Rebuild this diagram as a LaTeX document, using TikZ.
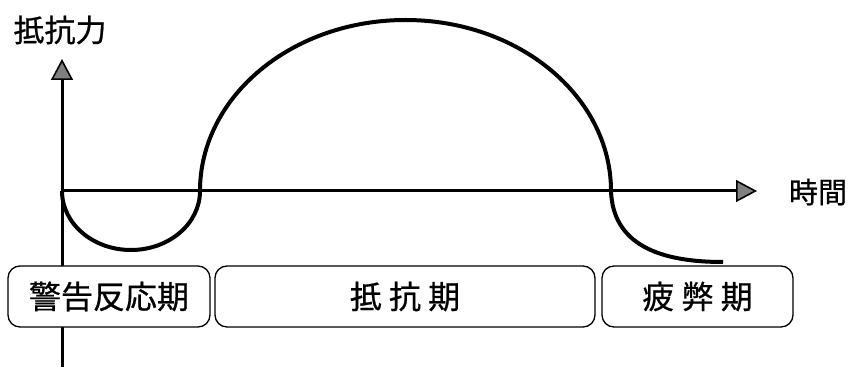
\documentclass[tikz,border=0pt]{standalone}
\usepackage{fontspec}
\setmainfont[FakeBold=0.7]{Noto Sans CJK JP}
\usetikzlibrary{arrows.meta}
\begin{document}
\begin{tikzpicture}[x=1pt,y=1pt,
  axis/.style={line width=3pt,-{Triangle[length=21pt,width=22pt,fill=gray,line width=1.6pt]}},
  curve/.style={line width=4pt},
  phase/.style={draw,line width=1.3pt,rounded corners=12pt,fill=white,minimum height=61pt,inner sep=0pt,font=\fontsize{32pt}{36pt}\selectfont},
  lbl/.style={inner sep=0pt}]
\useasboundingbox (0,0) rectangle (857,367);
\coordinate (o) at (62,176);
\coordinate (ybot) at (62,0);
\coordinate (ytip) at (62,308);
\coordinate (xtip) at (757,176);
\draw[axis] (ybot) -- (ytip);
\draw[axis] (o) -- (xtip);
\node[lbl,font=\fontsize{31pt}{34pt}\selectfont] (ylab) at (60,337) {抵抗力};
\node[lbl,font=\fontsize{29pt}{34pt}\selectfont] (xlab) at (818,175) {時間};
\draw[curve] (o) arc[start angle=180,end angle=360,x radius=69pt,y radius=59pt]
  arc[start angle=180,end angle=0,x radius=205.5pt,y radius=171pt]
  .. controls (613,122) and (660,105) .. (723,105);
\node[phase,minimum width=202pt] (p1) at (109,70.5) {警告反応期};
\node[phase,minimum width=380pt] (p2) at (405,70.5) {抵 抗 期};
\node[phase,minimum width=191pt] (p3) at (697.5,70.5) {疲 弊 期};
\end{tikzpicture}
\end{document}
